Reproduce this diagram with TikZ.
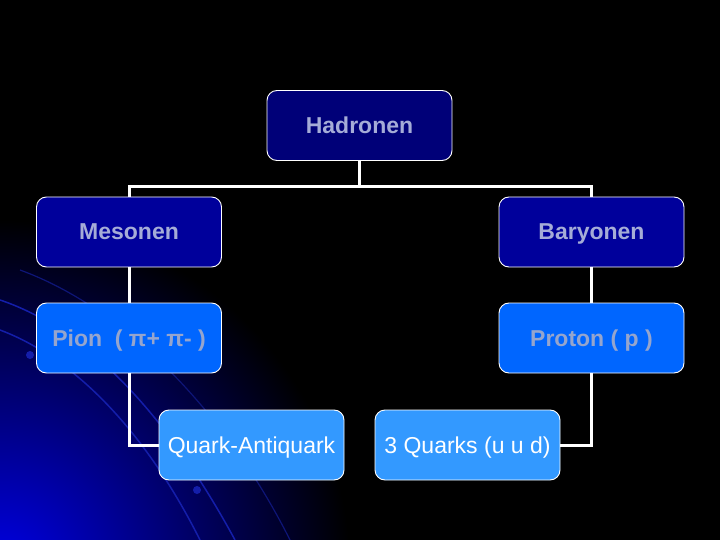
\documentclass[tikz,border=0pt]{standalone}
\usepackage{fontspec}
\setmainfont{Liberation Sans}
\usepackage{tikz}

\definecolor{navybox}{RGB}{0,0,120}
\definecolor{midbox}{RGB}{0,0,155}
\definecolor{brightbox}{RGB}{0,102,255}
\definecolor{lightbox}{RGB}{51,153,255}
\definecolor{paletext}{RGB}{165,172,215}
\definecolor{greytext}{RGB}{150,165,205}
\definecolor{swoosh}{RGB}{20,30,170}

\tikzset{
  box/.style={draw=white, line width=0.9pt, rounded corners=10pt,
    minimum width=185pt, minimum height=70pt, inner sep=0pt,
    text height=20pt, text depth=4pt,
    font=\fontsize{23}{27}\selectfont},
  topbox/.style={box, fill=navybox, text=paletext, font=\fontsize{23}{27}\selectfont\bfseries},
  groupbox/.style={box, fill=midbox, text=paletext, font=\fontsize{23}{27}\selectfont\bfseries},
  particlebox/.style={box, fill=brightbox, text=greytext, font=\fontsize{23}{27}\selectfont\bfseries},
  quarkbox/.style={box, fill=lightbox, text=white},
  link/.style={draw=white, line width=3pt}
}

\begin{document}
\begin{tikzpicture}[x=1pt,y=-1pt]
\useasboundingbox (0,0) rectangle (720,540);
% Hintergrund
\fill[black] (0,0) rectangle (720,540);
\begin{scope}
\clip (0,0) rectangle (720,540);
\shade[inner color=blue!90!black, outer color=black] (0,570) circle[radius=350pt];
\draw[swoosh, line width=1.5pt] (0,300) .. controls (90,330) and (170,420) .. (235,540);
\draw[swoosh, line width=1.5pt] (0,330) .. controls (80,360) and (150,440) .. (200,540);
\draw[swoosh!70!black, line width=1.2pt] (20,270) .. controls (130,310) and (230,420) .. (290,540);
\fill[swoosh] (30,355) circle[radius=4pt];
\fill[swoosh] (197,490) circle[radius=4pt];
\end{scope}

% Knoten
\node[topbox] (hadronen) at (359.5,125.5) {Hadronen};
\node[groupbox] (mesonen) at (129,232) {Mesonen};
\node[groupbox] (baryonen) at (591.5,232) {Baryonen};
\node[particlebox] (pion) at (129,338) {Pion\ \ ( π+ π- )};
\node[particlebox] (proton) at (591.5,338) {Proton ( p )};
\node[quarkbox] (qaq) at (251.5,445) {Quark-Antiquark};
\node[quarkbox] (uud) at (467.5,445) {3 Quarks (u u d)};

% Verbindungen
\coordinate (split) at (359.5,187);
\draw[link] (hadronen.south) -- (split);
\draw[link] (mesonen.north) |- (split) -| (baryonen.north);
\draw[link] (mesonen.south) -- (pion.north);
\draw[link] (baryonen.south) -- (proton.north);
\draw[link] (pion.south) |- (qaq.west);
\draw[link] (proton.south) |- (uud.east);
\end{tikzpicture}
\end{document}
